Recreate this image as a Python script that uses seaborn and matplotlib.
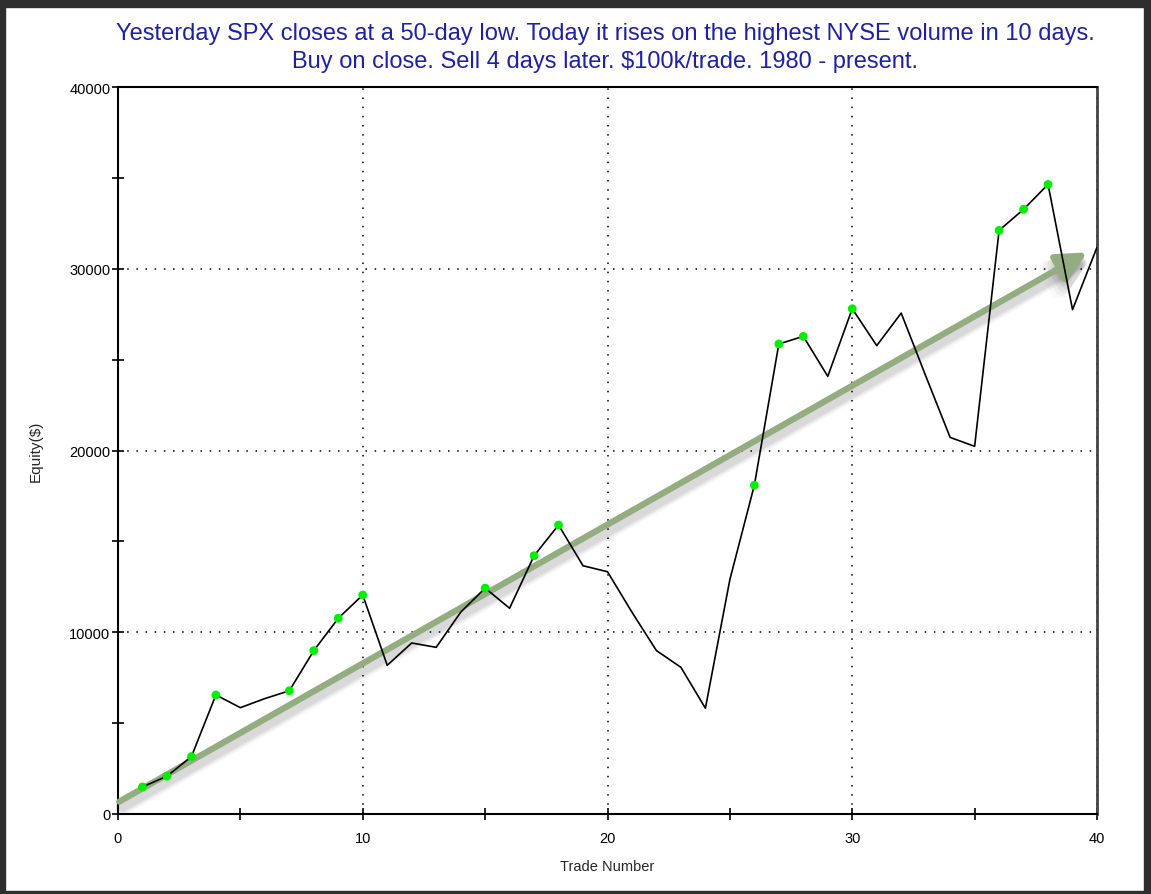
import numpy as np
import pandas as pd
import matplotlib
matplotlib.use("Agg")
import matplotlib.pyplot as plt
import matplotlib.transforms as mtransforms
from matplotlib.patches import Rectangle
from matplotlib.ticker import MultipleLocator
import seaborn as sns

# equity after each trade
trade_no = list(range(1, 41))
equity = [1490, 2080, 3160, 6550, 5850, 6350, 6780, 8990, 10770, 12050,
          8180, 9410, 9170, 11100, 12430, 11320, 14210, 15900, 13660, 13330,
          11100, 8990, 8070, 5820, 12900, 18090, 25860, 26280, 24080, 27800,
          25770, 27560, 24110, 20720, 20230, 32110, 33270, 34640, 27750, 31180]
# trades that set a new equity high (green dots)
high_trades = [1, 2, 3, 4, 7, 8, 9, 10, 15, 17, 18, 26, 27, 28, 30, 36, 37, 38]

# trend arrow drawn over the chart
trend_start = (0.05, 680)
trend_end = (39.6, 30900)

title = ("Yesterday SPX closes at a 50-day low. Today it rises on the highest NYSE volume in 10 days.\n"
         "Buy on close. Sell 4 days later. $100k/trade. 1980 - present.")

df = pd.DataFrame({"trade": trade_no, "equity": equity})
highs = df[df["trade"].isin(high_trades)]

sns.set_style("white")
plt.rcParams["font.family"] = ["Liberation Sans", "DejaVu Sans"]

fig = plt.figure(figsize=(11.51, 8.95), dpi=100)
ax = fig.add_axes([118 / 1151, 1 - 815 / 895, 979 / 1151, 727 / 895])

# dotted grid on the major ticks
ax.grid(True, which="major", color="black", linestyle=(0, (1, 5)), linewidth=1.1)

# trend arrow with a soft shadow underneath
arrow_style = "-|>,head_width=0.45,head_length=0.9"
for k, a in [(9, 0.025), (7, 0.035), (5, 0.045), (3, 0.05)]:
    shadow = mtransforms.offset_copy(ax.transData, fig=fig, x=2.5, y=-4, units="points")
    ax.annotate("", xy=trend_end, xytext=trend_start, xycoords=shadow, textcoords=shadow,
                arrowprops=dict(arrowstyle=arrow_style, color="black", lw=3 + k, alpha=a,
                                shrinkA=0, shrinkB=0, mutation_scale=20), zorder=2)
ax.annotate("", xy=trend_end, xytext=trend_start,
            arrowprops=dict(arrowstyle=arrow_style, color="#93ac80", lw=4.5,
                            shrinkA=0, shrinkB=0, mutation_scale=20), zorder=3)

sns.lineplot(data=df, x="trade", y="equity", color="black", linewidth=1.2, ax=ax, zorder=4)
sns.scatterplot(data=highs, x="trade", y="equity", color="#00ee00", s=40, edgecolor="none",
                ax=ax, zorder=5)

ax.set_xlim(0, 40)
ax.set_ylim(0, 40000)
ax.xaxis.set_major_locator(MultipleLocator(10))
ax.xaxis.set_minor_locator(MultipleLocator(5))
ax.yaxis.set_major_locator(MultipleLocator(10000))
ax.yaxis.set_minor_locator(MultipleLocator(5000))
ax.tick_params(axis="both", which="both", direction="inout", length=9, width=1.2,
               color="black", labelsize=10.5, labelcolor="black",
               bottom=True, left=True, top=False, right=False)
ax.tick_params(axis="x", pad=8)
ax.tick_params(axis="y", pad=1)

ax.set_xlabel("Trade Number", fontsize=10.5, labelpad=10)
ax.set_ylabel("Equity($)", fontsize=11, labelpad=19)

for side in ["left", "bottom", "top"]:
    ax.spines[side].set_color("black")
    ax.spines[side].set_linewidth(1.5)
ax.spines["right"].set_color("#444444")
ax.spines["right"].set_linewidth(2)

fig.text(605 / 1151, 1 - 48 / 895, title, ha="center", va="center", fontsize=17,
         color="#2020a0", linespacing=1.3)

# dark window frame around the picture
frame = "#2e2e2e"
fig.patches.append(Rectangle((0, 1 - 8 / 895), 1, 8 / 895, transform=fig.transFigure, color=frame))
fig.patches.append(Rectangle((0, 0), 5 / 1151, 1, transform=fig.transFigure, color=frame))
fig.patches.append(Rectangle((1 - 7 / 1151, 0), 7 / 1151, 1, transform=fig.transFigure, color=frame))
fig.patches.append(Rectangle((0, 0), 1, 3 / 895, transform=fig.transFigure, color=frame))

fig.savefig("out.png", dpi=100)
plt.close()
